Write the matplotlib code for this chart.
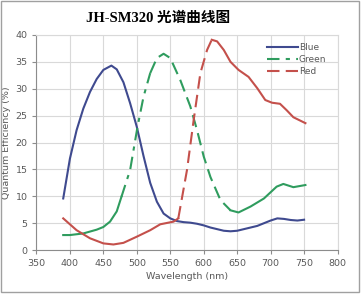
import matplotlib.pyplot as plt
from matplotlib.patches import Rectangle

# wavelength (nm) and quantum efficiency (%)
blue_wl = [390, 400, 410, 420, 430, 440, 450, 462, 470, 480, 490, 500, 510, 520,
           530, 540, 550, 560, 570, 580, 590, 600, 610, 620, 630, 640, 650, 660,
           670, 680, 690, 700, 710, 720, 730, 740, 750]
blue_qe = [9.6, 17.0, 22.3, 26.3, 29.4, 31.8, 33.5, 34.3, 33.6, 31.2, 27.3, 22.9, 17.5, 12.5,
           9.0, 6.8, 5.9, 5.4, 5.2, 5.1, 4.9, 4.6, 4.2, 3.9, 3.6, 3.5, 3.6, 3.9,
           4.2, 4.5, 5.0, 5.5, 5.9, 5.8, 5.6, 5.5, 5.65]

green_wl = [390, 400, 420, 440, 450, 460, 470, 477, 490, 501, 510, 520, 530, 540,
            550, 565, 580, 590, 600, 610, 625, 640, 652, 670, 690, 709, 719, 734, 752]
green_qe = [2.8, 2.8, 3.1, 3.8, 4.3, 5.3, 7.2, 9.9, 14.9, 22.9, 28.5, 32.9, 35.7, 36.5,
            35.7, 31.6, 26.7, 22.3, 17.4, 13.6, 9.3, 7.4, 7.0, 8.1, 9.6, 11.8, 12.3, 11.7, 12.1]

red_wl = [390, 400, 410, 430, 450, 465, 480, 500, 520, 535, 555, 562, 575, 585,
          595, 605, 612, 620, 630, 640, 652, 667, 680, 692, 702, 714, 724, 734, 752]
red_qe = [5.9, 4.8, 3.7, 2.2, 1.25, 1.05, 1.35, 2.5, 3.7, 4.8, 5.3, 5.9, 14.9, 24.2,
          32.9, 37.2, 39.1, 38.8, 37.2, 35.0, 33.5, 32.2, 30.1, 27.9, 27.4, 27.2, 26.0, 24.7, 23.6]

x_ticks = [350, 400, 450, 500, 550, 600, 650, 700, 750, 800]
y_ticks = [0, 5, 10, 15, 20, 25, 30, 35, 40]

c_blue = '#3f4a8f'
c_green = '#2f9c5e'
c_red = '#c4504b'
c_text = '#595959'
dashdot = (0, (6, 3, 2, 3))
dashed = (0, (6, 3))


def plot_pieces(ax, wl, qe, color, pieces):
    # the scanned chart switches line style along one curve
    for lo, hi, ls in pieces:
        xs = [w for w in wl if lo <= w <= hi]
        ys = [q for w, q in zip(wl, qe) if lo <= w <= hi]
        ax.plot(xs, ys, color=color, lw=1.5, linestyle=ls)


fig = plt.figure(figsize=(3.61, 2.96), dpi=100)
ax = fig.add_axes([0.101, 0.155, 0.834, 0.727])

plot_pieces(ax, blue_wl, blue_qe, c_blue, [(390, 752, '-')])
plot_pieces(ax, green_wl, green_qe, c_green,
            [(390, 477, '-'), (477, 520, dashdot), (520, 640, dashed), (640, 752, '-')])
plot_pieces(ax, red_wl, red_qe, c_red,
            [(390, 562, '-'), (562, 612, dashed), (612, 752, '-')])

# legend entries
ax.plot([], [], color=c_blue, lw=1.5, label='Blue')
ax.plot([], [], color=c_green, lw=1.5, linestyle=dashdot, label='Green')
ax.plot([], [], color=c_red, lw=1.5, linestyle=dashed, label='Red')
handles, labels = ax.get_legend_handles_labels()
ax.legend(handles[-3:], labels[-3:], loc='upper right', bbox_to_anchor=(0.99, 1.0),
          frameon=False, fontsize=6.5, handlelength=3.4, handletextpad=0.1,
          labelspacing=0.35, labelcolor=c_text)

ax.set_xlim(350, 800)
ax.set_ylim(0, 40)
ax.set_xticks(x_ticks)
ax.set_yticks(y_ticks)
ax.grid(True, color='#d9d9d9', lw=0.8)
ax.set_axisbelow(True)
for s in ['top', 'right']:
    ax.spines[s].set_color('#d9d9d9')
for s in ['left', 'bottom']:
    ax.spines[s].set_color('#8c8c8c')
ax.tick_params(colors='#8c8c8c', labelcolor=c_text, labelsize=6.8, length=3, width=0.8)
ax.set_xlabel('Wavelength (nm)', fontsize=6.8, color=c_text, labelpad=3)
ax.set_ylabel('Quantum Efficiency (%)', fontsize=6.8, color=c_text, labelpad=3)

fig.text(0.438, 0.94, 'JH-SM320 光谱曲线图', ha='center', va='center', fontsize=10.5,
         fontweight='bold', family=['Liberation Serif', 'Noto Sans CJK SC'])

fig.patches.append(Rectangle((0.004, 0.012), 0.99, 0.985, transform=fig.transFigure,
                             fill=False, edgecolor='#a0a0a0', lw=1))

fig.savefig('out.png', dpi=100)
